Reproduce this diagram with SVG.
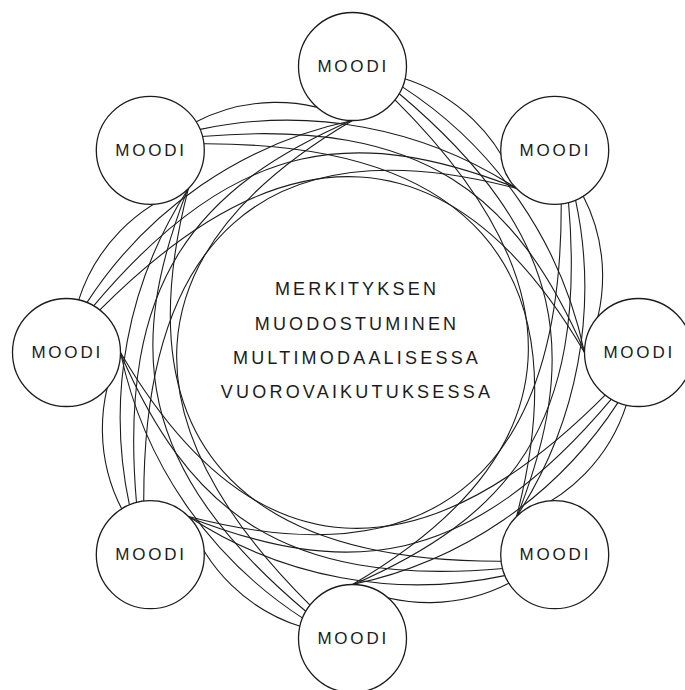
<svg xmlns="http://www.w3.org/2000/svg" xmlns:xlink="http://www.w3.org/1999/xlink" width="685" height="690" viewBox="0 0 685 690">
<style>
.arc{fill:none;stroke:#1c1c1c;stroke-width:1.1}
.node circle{fill:#fff;stroke:#1c1c1c;stroke-width:1.3}
.node text{font-family:"Liberation Sans",Arial,sans-serif;font-size:17px;letter-spacing:2.8px;fill:#1c1c1c;text-anchor:middle}
.title text{font-family:"Liberation Sans",Arial,sans-serif;font-size:18px;letter-spacing:3.2px;fill:#1c1c1c;text-anchor:middle}
</style>
<defs>
<g id="unit" class="arc">
<path d="M404.1,78.4 A174.8,174.8 0 0,1 516.9,188.1"/>
<path d="M401.6,86.4 A419,419 0 0,1 584.5,352.5"/>
<path d="M398.4,93 C571.7,238.5 578.3,360.1 516.9,516.9"/>
<path d="M394.3,99.1 C578.2,281.7 580.9,450.5 352.5,584.5"/>
</g>
</defs>
<g id="connectors">
<use xlink:href="#unit"/>
<use xlink:href="#unit" transform="rotate(45 352.5 352.5)"/>
<use xlink:href="#unit" transform="rotate(90 352.5 352.5)"/>
<use xlink:href="#unit" transform="rotate(135 352.5 352.5)"/>
<use xlink:href="#unit" transform="rotate(180 352.5 352.5)"/>
<use xlink:href="#unit" transform="rotate(225 352.5 352.5)"/>
<use xlink:href="#unit" transform="rotate(270 352.5 352.5)"/>
<use xlink:href="#unit" transform="rotate(315 352.5 352.5)"/>
</g>
<g id="node-t" class="node"><circle cx="352.5" cy="66.5" r="54"/><text x="353.2" y="72">MOODI</text></g>
<g id="node-tr" class="node"><circle cx="554.7" cy="150.3" r="54"/><text x="555.4" y="155.8">MOODI</text></g>
<g id="node-r" class="node"><circle cx="638.5" cy="352.5" r="54"/><text x="639.2" y="358">MOODI</text></g>
<g id="node-br" class="node"><circle cx="554.7" cy="554.7" r="54"/><text x="555.4" y="560.2">MOODI</text></g>
<g id="node-b" class="node"><circle cx="352.5" cy="638.5" r="54"/><text x="353.2" y="644">MOODI</text></g>
<g id="node-bl" class="node"><circle cx="150.3" cy="554.7" r="54"/><text x="151" y="560.2">MOODI</text></g>
<g id="node-l" class="node"><circle cx="66.5" cy="352.5" r="54"/><text x="67.2" y="358">MOODI</text></g>
<g id="node-tl" class="node"><circle cx="150.3" cy="150.3" r="54"/><text x="151" y="155.8">MOODI</text></g>
<g id="title" class="title">
<text x="357" y="295">MERKITYKSEN</text>
<text x="357" y="329.5">MUODOSTUMINEN</text>
<text x="357" y="363.5">MULTIMODAALISESSA</text>
<text x="357" y="398">VUOROVAIKUTUKSESSA</text>
</g>
</svg>
